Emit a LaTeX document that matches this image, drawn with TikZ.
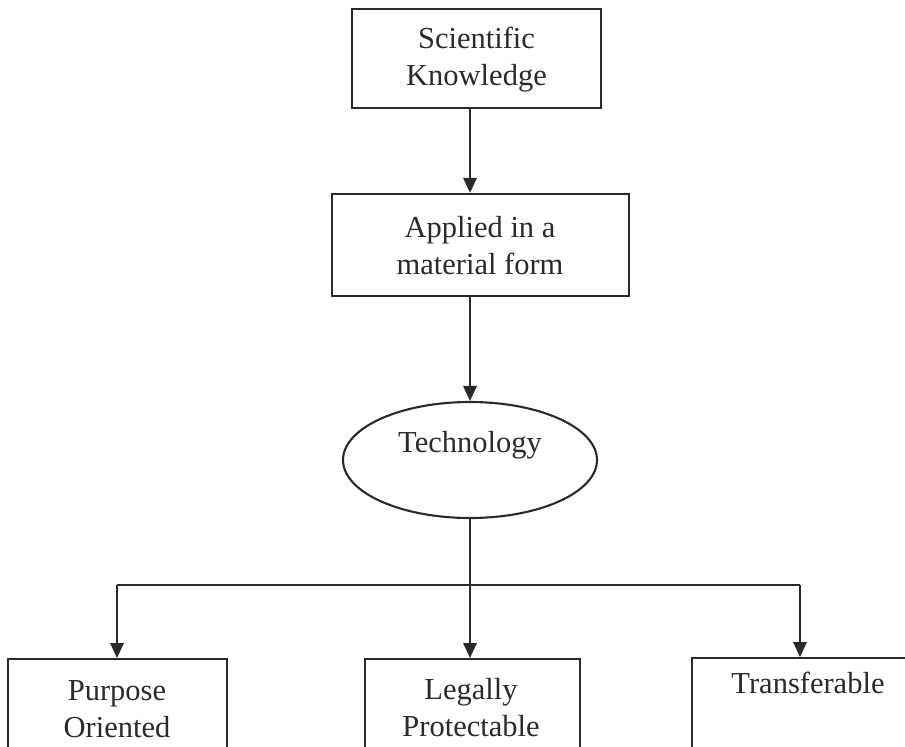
\documentclass[tikz,border=0pt]{standalone}
\usepackage{fontspec}
\setmainfont{Liberation Serif}
\usetikzlibrary{shapes.geometric,arrows.meta}

\definecolor{ink}{HTML}{2A2A2A}

\tikzset{
  box/.style={draw=ink, line width=2.4bp, rectangle, inner sep=0pt},
  oval/.style={draw=ink, line width=2.1bp, ellipse, inner sep=0pt,
               minimum width=254bp, minimum height=116bp},
  txt/.style={text=ink, font=\fontsize{30.5bp}{37bp}\selectfont,
              align=center, inner sep=0pt},
  link/.style={draw=ink, line width=1.8bp},
  arr/.style={link, -{Triangle[length=15bp,width=13.5bp]}},
}

\begin{document}
\begin{tikzpicture}[x=1bp,y=-1bp]
  \useasboundingbox (0,0) rectangle (905,747);
  \clip (0,0) rectangle (905,747);
  \fill[white] (0,0) rectangle (905,747);

  % top chain
  \node[box, minimum width=249bp, minimum height=99bp] (sk) at (476.5,58.5) {};
  \node[txt] (sklabel) at (476.5,59.5) {Scientific\\Knowledge};

  \node[box, minimum width=297bp, minimum height=102bp] (app) at (480.5,245) {};
  \node[txt] (applabel) at (480,246) {Applied in a\\material form};

  \node[oval] (tech) at (470,460) {};
  \node[txt] (techlabel) at (470,445) {Technology};

  % bottom row (boxes run past the lower edge)
  \node[box, minimum width=219bp, minimum height=140bp, anchor=north] (po) at (117.5,658) {};
  \node[txt] (polabel) at (117,709) {Purpose\\Oriented};

  \node[box, minimum width=215bp, minimum height=140bp, anchor=north] (lp) at (472.5,658) {};
  \node[txt] (lplabel) at (471,708) {Legally\\Protectable};

  \node[box, minimum width=230bp, minimum height=140bp, anchor=north] (tr) at (807,657) {};
  \node[txt] (trlabel) at (808,683) {Transferable};

  % connectors
  \draw[arr] (sk.south -| tech.north) -- (app.north -| tech.north);
  \draw[arr] (app.south -| tech.north) -- (tech.north);

  \coordinate (fork) at (470,585);
  \coordinate (hl) at (117,585);
  \coordinate (hr) at (800,585);
  \draw[link] (tech.south) -- (fork);
  \draw[link] (hl) -- (hr);
  \draw[arr] (hl) -- (hl |- po.north);
  \draw[arr] (fork) -- (fork |- lp.north);
  \draw[arr] (hr) -- (hr |- tr.north);
\end{tikzpicture}
\end{document}
